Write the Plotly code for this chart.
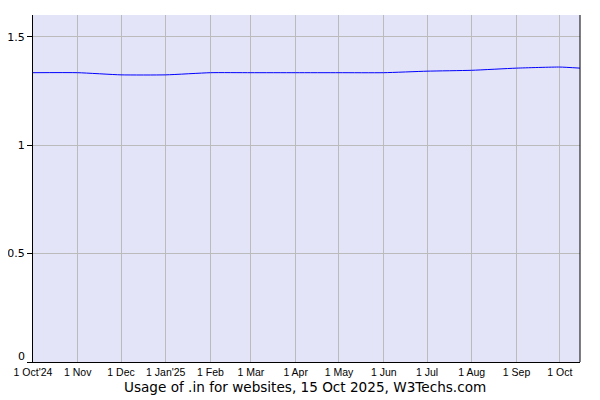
import plotly.graph_objects as go

dates = ["2024-10-01", "2024-11-01", "2024-12-01", "2025-01-01", "2025-02-01", "2025-03-01",
         "2025-04-01", "2025-05-01", "2025-06-01", "2025-07-01", "2025-08-01", "2025-09-01",
         "2025-10-01", "2025-10-15"]
usage = [1.334, 1.334, 1.324, 1.324, 1.334, 1.334, 1.334, 1.334, 1.334, 1.341, 1.345, 1.355, 1.360, 1.355]

tick_dates = dates[:13]
tick_labels = ["1 Oct'24", "1 Nov", "1 Dec", "1 Jan'25", "1 Feb", "1 Mar", "1 Apr", "1 May",
               "1 Jun", "1 Jul", "1 Aug", "1 Sep", "1 Oct"]
y_ticks = [0, 0.5, 1, 1.5]
y_labels = ["", "0.5", "1", "1.5"]
zero_label = "0"

fig = go.Figure()
fig.add_trace(go.Scatter(x=dates, y=usage, mode="lines",
                         line=dict(color="#0000ff", width=1, shape="spline", smoothing=0.5),
                         hoverinfo="x+y"))

fig.update_layout(
    width=592, height=392,
    margin=dict(l=25, r=20, t=7, b=38),
    plot_bgcolor="#e4e4f8", paper_bgcolor="white",
    showlegend=False,
    xaxis=dict(range=["2024-10-01", "2025-10-15"], tickvals=tick_dates, ticktext=tick_labels,
               showgrid=True, gridcolor="#bbbbbb", gridwidth=1, showline=True, linecolor="black", linewidth=1,
               ticks="", tickfont=dict(family="Liberation Sans, Arial", size=10.5, color="black"),
               zeroline=False, automargin=False, tickangle=0),
    yaxis=dict(range=[0, 1.6], tickvals=y_ticks, ticktext=y_labels, showgrid=True, gridcolor="#bbbbbb",
               gridwidth=1, showline=True, linecolor="black", linewidth=1, ticks="outside", ticklen=5,
               tickcolor="black", tickfont=dict(family="DejaVu Sans, Verdana", size=11, color="black"),
               zeroline=False, automargin=False),
    shapes=[dict(type="line", xref="paper", yref="paper", x0=1, x1=1, y0=0, y1=1,
                 line=dict(color="black", width=1))],
    annotations=[
        dict(text="Usage of .in for websites, 15 Oct 2025, W3Techs.com", xref="paper", yref="paper",
             x=0.497, y=-0.071, xanchor="center", yanchor="middle", showarrow=False,
             font=dict(family="DejaVu Sans, Verdana", size=13.6, color="black")),
        dict(text=zero_label, xref="paper", yref="y", x=0, y=0, xanchor="right", yanchor="bottom",
             xshift=-6, yshift=-3, showarrow=False,
             font=dict(family="DejaVu Sans, Verdana", size=11, color="black")),
    ],
)

fig.write_html("out.html")
